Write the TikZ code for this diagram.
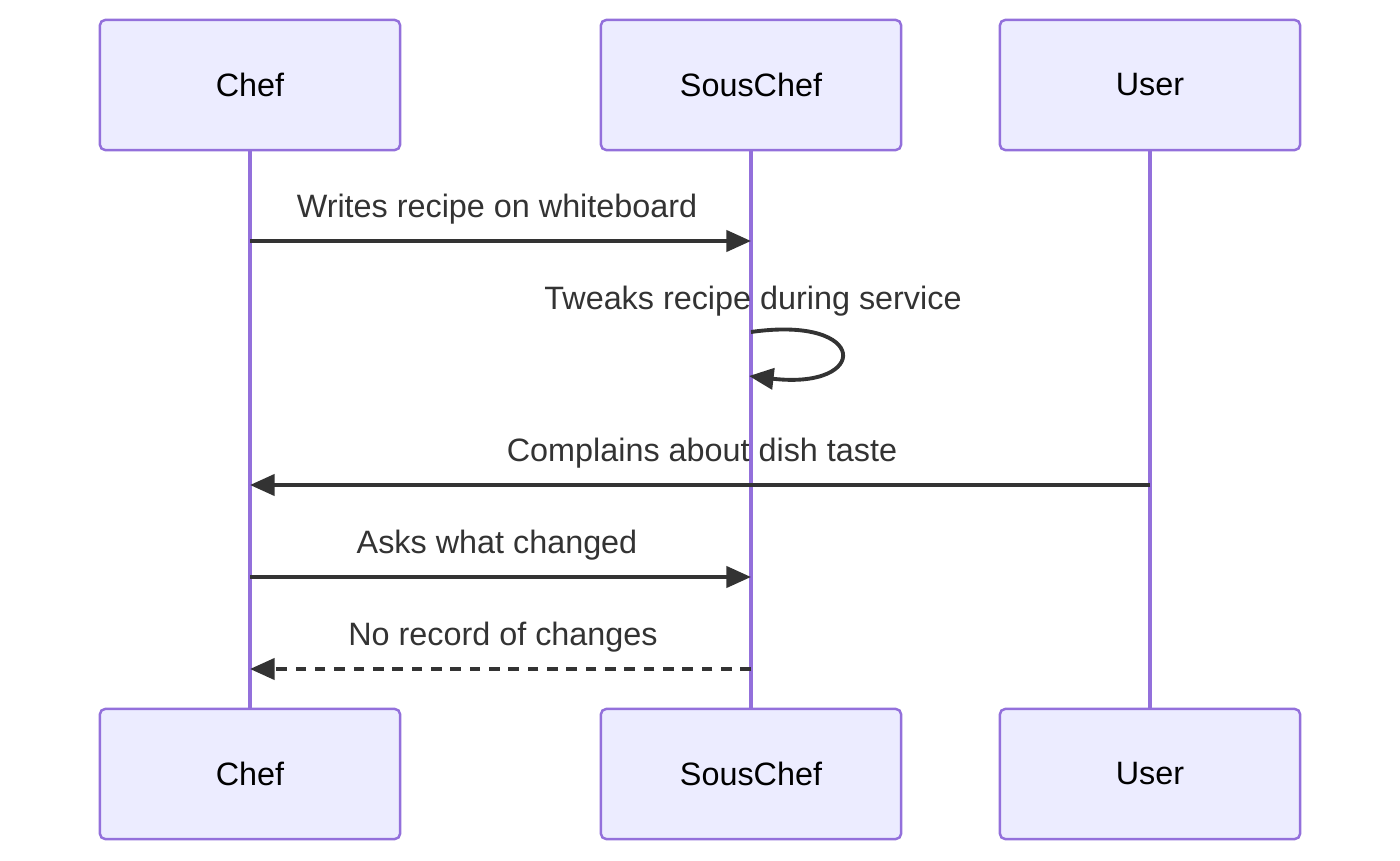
\documentclass[tikz,border=0pt]{standalone}
\usepackage{fontspec}
\setmainfont{Liberation Sans}
\usetikzlibrary{arrows.meta}
\definecolor{boxfill}{HTML}{ECECFF}
\definecolor{boxline}{HTML}{9370DB}
\definecolor{msg}{HTML}{333333}
\begin{document}
\begin{tikzpicture}[x=0.01cm,y=-0.01cm,
    actor/.style={draw=boxline,fill=boxfill,line width=0.7pt,rounded corners=1.5pt,minimum width=3cm,minimum height=1.3cm,font=\fontsize{9.2}{11}\selectfont},
    life/.style={draw=boxline,line width=1.4pt},
    call/.style={draw=msg,line width=1.1pt,-{Triangle[length=7pt,width=6pt]}},
    reply/.style={call,dash pattern=on 3pt off 2.5pt},
    lbl/.style={text=msg,font=\fontsize{9.2}{11}\selectfont}]
    \useasboundingbox (0,0) rectangle (1400,861);
    % actors
    \node[actor] (chefT) at (250,85) {Chef};
    \node[actor] (sousT) at (751,85) {SousChef};
    \node[actor] (userT) at (1150,85) {User};
    \node[actor] (chefB) at (250,774) {Chef};
    \node[actor] (sousB) at (751,774) {SousChef};
    \node[actor] (userB) at (1150,774) {User};
    \draw[life] (chefT) -- (chefB);
    \draw[life] (sousT) -- (sousB);
    \draw[life] (userT) -- (userB);
    % messages
    \coordinate (c1) at (250,241); \coordinate (s1) at (751,241);
    \draw[call] (c1) -- (s1);
    \node[lbl] at (497,209) {Writes recipe on whiteboard};
    \coordinate (s2) at (751,332); \coordinate (s3) at (749,376);
    \draw[call] (s2) .. controls (870,315) and (870,390) .. (s3);
    \node[lbl] at (753,301) {Tweaks recipe during service};
    \coordinate (u4) at (1150,485); \coordinate (c4) at (250,485);
    \draw[call] (u4) -- (c4);
    \node[lbl] at (702,453) {Complains about dish taste};
    \coordinate (c5) at (250,577); \coordinate (s5) at (751,577);
    \draw[call] (c5) -- (s5);
    \node[lbl] at (497,545) {Asks what changed};
    \coordinate (s6) at (751,669); \coordinate (c6) at (250,669);
    \draw[reply] (s6) -- (c6);
    \node[lbl] at (503,637) {No record of changes};
\end{tikzpicture}
\end{document}
